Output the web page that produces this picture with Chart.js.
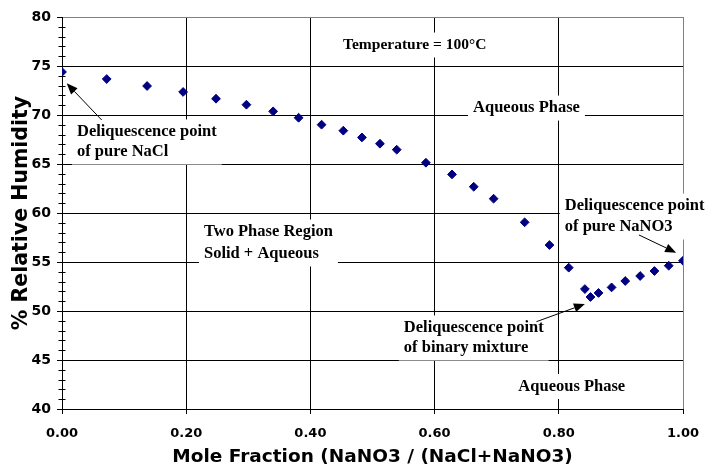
<!DOCTYPE html>
<html>
<head>
<meta charset="utf-8">
<script src="https://cdn.jsdelivr.net/npm/chart.js@4/dist/chart.umd.min.js"></script>
<style>
html,body{margin:0;padding:0;background:#fff;}
#wrap{width:713px;height:470px;position:relative;}
</style>
</head>
<body>
<div id="wrap"><canvas id="c" width="713" height="470"></canvas></div>
<script>
// ---- data ----
const moleFraction = [0.000, 0.072, 0.137, 0.195, 0.248, 0.297, 0.340, 0.381, 0.418, 0.453,
                      0.483, 0.512, 0.539, 0.586, 0.628, 0.663, 0.695, 0.745, 0.785, 0.816,
                      0.842, 0.851, 0.864, 0.885, 0.907, 0.931, 0.954, 0.977, 1.000];
const relHumidity  = [74.39, 73.67, 72.96, 72.35, 71.66, 71.05, 70.37, 69.72, 69.01, 68.40,
                      67.71, 67.07, 66.46, 65.13, 63.94, 62.68, 61.46, 59.05, 56.73, 54.42,
                      52.24, 51.43, 51.84, 52.41, 53.06, 53.57, 54.08, 54.62, 55.13];
const xTickValues = [0, 0.2, 0.4, 0.6, 0.8, 1.0];
const xTickLabels = ['0.00', '0.20', '0.40', '0.60', '0.80', '1.00'];
const yTickValues = [40, 45, 50, 55, 60, 65, 70, 75, 80];
const yTickLabels = ['40', '45', '50', '55', '60', '65', '70', '75', '80'];
const xAxisTitle = 'Mole Fraction (NaNO3 / (NaCl+NaNO3)';
const yAxisTitle = '% Relative Humidity';
const noteTexts = [
  ['Temperature = 100°C'],
  ['Aqueous Phase'],
  ['Deliquescence point', 'of pure NaCl'],
  ['Two Phase Region', 'Solid + Aqueous'],
  ['Deliquescence point', 'of pure NaNO3'],
  ['Deliquescence point', 'of binary mixture'],
  ['Aqueous Phase']
];

// ---- annotation placement (data coordinates) ----
const notePlacement = [
  {x: 0.568, y: [77.14], align: 'center', size: 15.5},
  {x: 0.748, y: [70.71], align: 'center', size: 16.5},
  {x: 0.0241, y: [68.27, 66.22], align: 'left', size: 16.5},
  {x: 0.2286, y: [58.06, 55.82], align: 'left', size: 16.5},
  {x: 0.8096, y: [60.71, 58.57], align: 'left', size: 16.5},
  {x: 0.5505, y: [48.27, 46.22], align: 'left', size: 16.5},
  {x: 0.8209, y: [42.30], align: 'center', size: 16.5}
];
const arrowPlacement = [
  {from: [0.0639, 69.49], to: [0.0076, 73.23]},
  {from: [0.929, 57.76], to: [0.989, 55.95]},
  {from: [0.764, 48.91], to: [0.842, 50.71]}
];

const notesPlugin = {
  id: 'notes',
  beforeDatasetsDraw(chart) {
    const ctx = chart.ctx, xs = chart.scales.x, ys = chart.scales.y;
    ctx.save();
    noteTexts.forEach((lines, i) => {
      const p = notePlacement[i];
      ctx.font = 'bold ' + p.size + 'px "Liberation Serif", "Times New Roman", serif';
      const px = xs.getPixelForValue(p.x);
      const pys = p.y.map(v => ys.getPixelForValue(v));
      let minL = Infinity, maxR = -Infinity;
      lines.forEach(t => {
        const w = ctx.measureText(t).width;
        const l = p.align === 'center' ? px - w / 2 : px;
        minL = Math.min(minL, l); maxR = Math.max(maxR, l + w);
      });
      ctx.fillStyle = '#fff';
      ctx.fillRect(minL - 5, pys[0] - 12.5, (maxR - minL) + 10, (pys[pys.length - 1] - pys[0]) + 25);
      ctx.fillStyle = '#000';
      ctx.textBaseline = 'middle';
      ctx.textAlign = p.align;
      lines.forEach((t, j) => ctx.fillText(t, px, pys[j]));
    });
    // arrows
    ctx.strokeStyle = '#000';
    ctx.fillStyle = '#000';
    ctx.lineWidth = 1;
    arrowPlacement.forEach(a => {
      const x1 = xs.getPixelForValue(a.from[0]), y1 = ys.getPixelForValue(a.from[1]);
      const x2 = xs.getPixelForValue(a.to[0]), y2 = ys.getPixelForValue(a.to[1]);
      const ang = Math.atan2(y2 - y1, x2 - x1);
      const L = 11, W = 4.5;
      const bx = x2 - L * Math.cos(ang), by = y2 - L * Math.sin(ang);
      ctx.beginPath();
      ctx.moveTo(x1, y1); ctx.lineTo(bx, by);
      ctx.stroke();
      ctx.beginPath();
      ctx.moveTo(x2, y2);
      ctx.lineTo(bx + W * Math.sin(ang), by - W * Math.cos(ang));
      ctx.lineTo(bx - W * Math.sin(ang), by + W * Math.cos(ang));
      ctx.closePath();
      ctx.fill();
    });
    ctx.restore();
  },
  afterDraw(chart) {
    // minor ticks on y axis every 1 unit
    const ctx = chart.ctx, ys = chart.scales.y;
    const left = Math.round(chart.chartArea.left) + 0.5;
    ctx.save();
    ctx.strokeStyle = '#000';
    ctx.lineWidth = 1;
    ctx.beginPath();
    for (let v = ys.min + 1; v < ys.max; v++) {
      if (v % 5 === 0) continue;
      const y = Math.round(ys.getPixelForValue(v)) + 0.5;
      ctx.moveTo(left - 4, y); ctx.lineTo(left + 3, y);
    }
    ctx.stroke();
    ctx.restore();
  }
};

const xTickFont = {family: '"DejaVu Sans", sans-serif', weight: 'bold', size: 13};
const yTickFont = {family: '"DejaVu Sans", sans-serif', weight: 'bold', size: 14};

new Chart(document.getElementById('c'), {
  type: 'scatter',
  data: {
    datasets: [{
      data: moleFraction.map((x, i) => ({x: x, y: relHumidity[i]})),
      pointStyle: 'rectRot',
      pointRadius: 4.4,
      backgroundColor: '#000080',
      borderColor: '#000080',
      borderWidth: 1,
      showLine: false
    }]
  },
  options: {
    responsive: false,
    animation: false,
    devicePixelRatio: 1,
    layout: {padding: {top: 17, right: 30, bottom: 0, left: 0}},
    plugins: {legend: {display: false}, tooltip: {enabled: false}},
    scales: {
      x: {
        type: 'linear', min: 0, max: 1,
        afterBuildTicks: s => { s.ticks = xTickValues.map(v => ({value: v})); },
        afterFit: s => { s.height = 61; },
        ticks: {
          callback: (v, i) => xTickLabels[i],
          font: xTickFont, color: '#000', padding: 12, maxRotation: 0, autoSkip: false
        },
        grid: {
          color: c => (c.tick && c.tick.value === 1) ? '#808080' : '#000',
          tickColor: '#000', tickLength: 5, lineWidth: 1
        },
        border: {color: '#000', width: 1},
        title: {
          display: true, text: xAxisTitle, color: '#000',
          font: {family: '"DejaVu Sans", sans-serif', weight: 'bold', size: 18.5},
          padding: {top: 0, bottom: 2}
        }
      },
      y: {
        type: 'linear', min: 40, max: 80,
        afterBuildTicks: s => { s.ticks = yTickValues.map(v => ({value: v})); },
        afterFit: s => { s.width = 62; },
        ticks: {
          callback: (v, i) => yTickLabels[i],
          font: yTickFont, color: '#000', padding: 6
        },
        grid: {
          color: c => (c.tick && c.tick.value === 80) ? '#808080' : '#000',
          tickColor: '#000', tickLength: 5, lineWidth: 1
        },
        border: {color: '#000', width: 1},
        title: {
          display: true, text: yAxisTitle, color: '#000',
          font: {family: '"DejaVu Sans", sans-serif', weight: 'bold', size: 20.5},
          padding: {top: 9, bottom: 0}
        }
      }
    }
  },
  plugins: [notesPlugin]
});
</script>
</body>
</html>
